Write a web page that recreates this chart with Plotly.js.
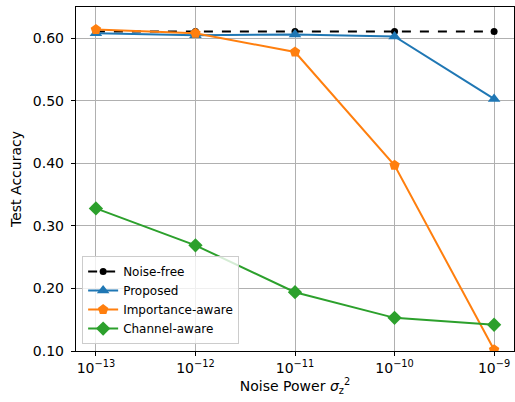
<!DOCTYPE html>
<html>
<head>
<meta charset="utf-8">
<script src="https://cdn.plot.ly/plotly-3.0.1.min.js"></script>
<style>html,body{margin:0;padding:0;background:#fff}#chart{width:515px;height:402px}</style>
</head>
<body>
<div id="chart"></div>
<script>
const noisePower = [1e-13, 1e-12, 1e-11, 1e-10, 1e-9];
const tickLabels = ["10<sup>−13</sup>", "10<sup>−12</sup>", "10<sup>−11</sup>", "10<sup>−10</sup>", "10<sup>−9</sup>"];
const noiseFree = [0.611, 0.611, 0.611, 0.611, 0.611];
const proposed = [0.608, 0.605, 0.606, 0.603, 0.503];
const importanceAware = [0.614, 0.608, 0.578, 0.397, 0.102];
const channelAware = [0.328, 0.269, 0.194, 0.153, 0.142];
const yTicks = [0.10, 0.20, 0.30, 0.40, 0.50, 0.60];

const font = {family: "DejaVu Sans, sans-serif", color: "#000"};
function tr(name, y, color, symbol, size, dash) {
  return {x: noisePower, y: y, name: name, type: "scatter", mode: "lines+markers",
    line: {color: color, width: 2, dash: dash || "solid"},
    marker: {symbol: symbol, size: size, color: color}};
}
const data = [
  tr("Noise-free", noiseFree, "#000000", "circle", 7, "dash"),
  tr("Proposed", proposed, "#1f77b4", "triangle-up", 11),
  tr("Importance-aware", importanceAware, "#ff7f0e", "pentagon", 11),
  tr("Channel-aware", channelAware, "#2ca02c", "diamond", 11)
];
const layout = {
  width: 515, height: 402,
  margin: {l: 76, r: 1, t: 7, b: 51},
  paper_bgcolor: "#fff", plot_bgcolor: "#fff",
  font: Object.assign({size: 14}, font),
  showlegend: true,
  legend: {x: 0.014, y: 0.02, xanchor: "left", yanchor: "bottom",
    bgcolor: "rgba(255,255,255,0.8)", bordercolor: "#cccccc", borderwidth: 1,
    font: Object.assign({size: 12}, font), tracegroupgap: 0, itemwidth: 30},
  xaxis: {type: "log", range: [-13.2, -8.8], tickvals: noisePower, ticktext: tickLabels,
    showgrid: true, gridcolor: "#b0b0b0", gridwidth: 1, zeroline: false,
    showline: true, linecolor: "#000", linewidth: 1.2, mirror: true,
    ticks: "outside", ticklen: 4, tickcolor: "#000", tickfont: {size: 14},
    title: {text: "Noise Power <i>σ</i><sub>z</sub><sup>2</sup>", font: {size: 14}, standoff: 6}},
  yaxis: {range: [0.10, 0.65], tickvals: yTicks, tickformat: ".2f",
    showgrid: true, gridcolor: "#b0b0b0", gridwidth: 1, zeroline: false,
    showline: true, linecolor: "#000", linewidth: 1.2, mirror: true,
    ticks: "outside", ticklen: 4, tickcolor: "#000", tickfont: {size: 14},
    ticklabelstandoff: 4,
    title: {text: "Test Accuracy", font: {size: 14}, standoff: 8}}
};
Plotly.newPlot("chart", data, layout, {staticPlot: true, displayModeBar: false});
</script>
</body>
</html>
